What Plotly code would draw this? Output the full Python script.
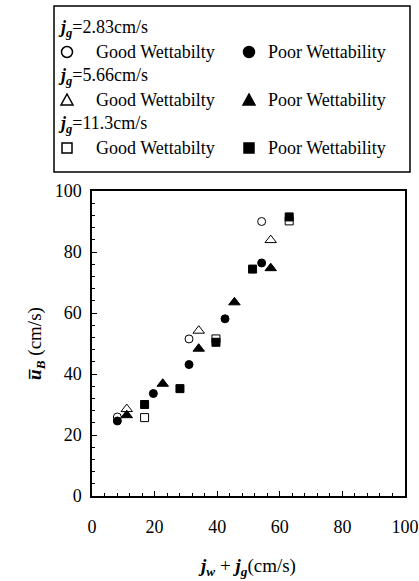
import plotly.graph_objects as go

# ---- data ----
good_circle_x = [8.1, 31.0, 54.2]
good_circle_y = [25.9, 51.5, 90.0]
poor_circle_x = [8.1, 19.6, 31.0, 42.5, 54.2]
poor_circle_y = [24.6, 33.6, 43.1, 58.1, 76.4]

good_tri_x = [11.1, 34.1, 57.1]
good_tri_y = [28.5, 54.2, 83.9]
poor_tri_x = [11.1, 22.6, 34.1, 45.5, 57.1]
poor_tri_y = [26.5, 36.8, 48.3, 63.5, 74.7]

good_sq_x = [16.8, 39.6, 63.0]
good_sq_y = [25.7, 51.5, 90.2]
poor_sq_x = [16.8, 28.1, 39.6, 51.3, 63.0]
poor_sq_y = [30.0, 35.2, 50.4, 74.4, 91.5]

tick_vals = [0, 20, 40, 60, 80, 100]
legend_speeds = ["2.83", "5.66", "11.3"]
legend_kinds = ["circle", "triangle", "square"]

W, H = 419, 581
L, R, T, B = 92, 14, 191, 85
FONT = "Liberation Serif, Times New Roman, serif"

fig = go.Figure()

def add(x, y, sym, size):
    fig.add_trace(go.Scatter(x=x, y=y, mode="markers",
                             marker=dict(symbol=sym, size=size, color="black",
                                         line=dict(color="black", width=1)),
                             showlegend=False))

add(good_circle_x, good_circle_y, "circle-open", 8)
add(poor_circle_x, poor_circle_y, "circle", 8)
add(good_tri_x, good_tri_y, "triangle-up-open", 10)
add(poor_tri_x, poor_tri_y, "triangle-up", 10)
add(good_sq_x, good_sq_y, "square-open", 8)
add(poor_sq_x, poor_sq_y, "square", 8)

pw = W - L - R
ph = H - T - B

def px(xpix):
    return (xpix - L) / pw

def py(ypix):
    return (H - B - ypix) / ph

def note(x, y, text, size=18, anchor="left"):
    fig.add_annotation(xref="paper", yref="paper", x=px(x), y=py(y),
                       xanchor=anchor, yanchor="middle", showarrow=False,
                       text=text, font=dict(family=FONT, size=size, color="black"))

def key(x, y, kind, filled):
    common = dict(xref="paper", yref="paper", xsizemode="pixel", ysizemode="pixel",
                  xanchor=px(x), yanchor=py(y),
                  line=dict(color="black", width=1.5),
                  fillcolor="black" if filled else "rgba(0,0,0,0)")
    if kind == "circle":
        fig.add_shape(type="circle", x0=-5.5, x1=5.5, y0=-5.5, y1=5.5, **common)
    elif kind == "square":
        fig.add_shape(type="rect", x0=-5, x1=5, y0=-5, y1=5, **common)
    else:
        fig.add_shape(type="path", path="M -6,-5 L 6,-5 L 0,6 Z", **common)

# legend box
fig.add_shape(type="rect", xref="paper", yref="paper",
              x0=px(54), x1=px(410), y0=py(172), y1=py(6),
              line=dict(color="black", width=1.5), fillcolor="white")

rows_y = [28, 52, 76, 100, 124, 148]
for i, sp in enumerate(legend_speeds):
    note(56, rows_y[2 * i],
         f"<b><i>j</i></b><sub><i><b>g</b></i></sub>={sp}cm/s")
    key(67, rows_y[2 * i + 1], legend_kinds[i], False)
    note(94, rows_y[2 * i + 1], "Good Wettabilty")
    key(249, rows_y[2 * i + 1], legend_kinds[i], True)
    note(266, rows_y[2 * i + 1], "Poor Wettability")

axis_common = dict(range=[0, 100], tickvals=tick_vals, ticks="inside", ticklen=5,
                   tickwidth=1, tickcolor="black", showgrid=False, zeroline=False,
                   showline=True, linecolor="black", linewidth=1.5, mirror=True,
                   automargin=False,
                   tickfont=dict(family=FONT, size=18, color="black"),
                   minor=dict(dtick=4, tick0=0, ticks="inside", ticklen=3,
                              tickcolor="black", showgrid=False))

fig.update_xaxes(**axis_common, ticklabelstandoff=14,
                 title=dict(text="<b><i>j</i></b><sub><b><i>w</i></b></sub> + <b><i>j</i></b><sub><b><i>g</i></b></sub>(cm/s)",
                            font=dict(family=FONT, size=19, color="black"), standoff=22))
fig.update_yaxes(**axis_common, ticklabelstandoff=5,
                 title=dict(text="<b><i>u̅</i></b><sub><b><i>B</i></b></sub> (cm/s)",
                            font=dict(family=FONT, size=19, color="black"), standoff=8))

fig.update_layout(width=W, height=H, margin=dict(l=L, r=R, t=T, b=B),
                  plot_bgcolor="white", paper_bgcolor="white",
                  font=dict(family=FONT, color="black"))

fig.write_html("out.html")
